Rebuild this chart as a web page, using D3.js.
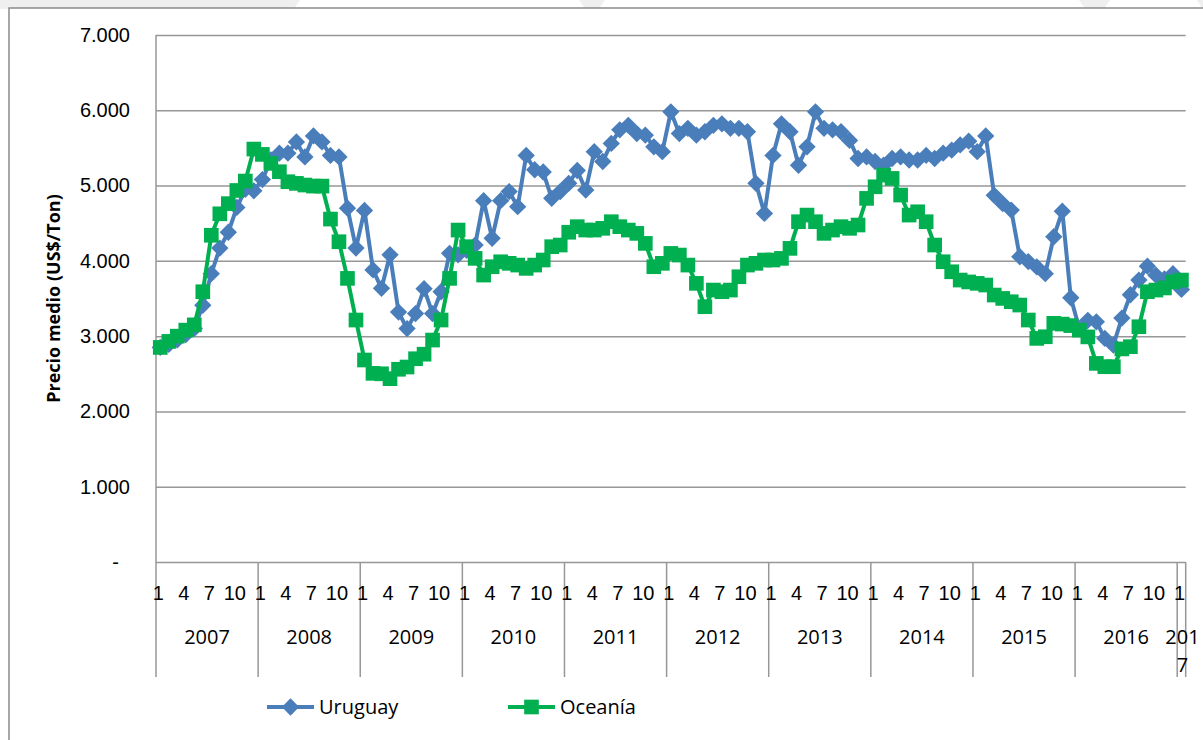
<!DOCTYPE html>
<html>
<head>
<meta charset="utf-8">
<script src="https://cdn.jsdelivr.net/npm/d3@7"></script>
<style>
  body { margin: 0; background: #fff; }
  svg { display: block; font-family: "Open Sans", sans-serif; }
</style>
</head>
<body>
<svg id="chart" width="1203" height="740"></svg>
<script>
// monthly prices, Jan 2007 .. Jan 2017 (121 months)
var years = ["2007", "2008", "2009", "2010", "2011", "2012", "2013", "2014", "2015", "2016", "2017"];
var monthTicks = [1, 4, 7, 10];
var yTicks = [0, 1000, 2000, 3000, 4000, 5000, 6000, 7000];

var uruguay = [
	2850, 2890, 2950, 3020, 3100, 3410, 3830, 4170, 4380, 4710, 4950, 4930,
	5080, 5340, 5430, 5430, 5580, 5380, 5660, 5580, 5400, 5380, 4700, 4170,
	4670, 3880, 3635, 4080, 3320, 3100, 3300, 3630, 3300, 3590, 4100, 4080,
	4140, 4210, 4800, 4300, 4800, 4920, 4720, 5400, 5210, 5180, 4830, 4920,
	5030, 5200, 4940, 5450, 5320, 5560, 5740, 5800, 5690, 5670, 5515, 5450,
	5980, 5690, 5760, 5670, 5715, 5800, 5820, 5760, 5760, 5715, 5030, 4630,
	5400, 5820, 5715, 5270, 5515, 5980, 5760, 5740, 5715, 5600, 5360, 5380,
	5320, 5270, 5360, 5380, 5340, 5340, 5400, 5360, 5430, 5470, 5540, 5590,
	5450, 5660, 4870, 4760, 4675, 4055, 3990, 3920, 3830, 4320, 4660, 3510,
	3100, 3210, 3190, 2970, 2880, 3240, 3550, 3745, 3930, 3810, 3760, 3830,
	3620
];
var oceania = [
	2850, 2930, 3000, 3080, 3150, 3590, 4340, 4625, 4760, 4935, 5060, 5485,
	5414, 5295, 5184, 5051, 5029, 5007, 4993, 4993, 4555, 4254, 3767, 3214,
	2683, 2506, 2500, 2435, 2560, 2590, 2700, 2760, 2948, 3214, 3767, 4409,
	4188, 4033, 3811, 3922, 3988, 3967, 3944, 3900, 3944, 4011, 4188, 4210,
	4380, 4454, 4409, 4409, 4432, 4520, 4454, 4409, 4365, 4232, 3922, 3967,
	4099, 4077, 3944, 3701, 3391, 3612, 3590, 3612, 3789, 3944, 3967, 4011,
	4011, 4033, 4166, 4520, 4608, 4520, 4365, 4409, 4454, 4432, 4476, 4830,
	4984, 5139, 5095, 4874, 4608, 4652, 4520, 4210, 3988, 3855, 3745, 3720,
	3701, 3679, 3546, 3501, 3457, 3413, 3214, 2970, 2992, 3170, 3160, 3140,
	3080, 2990, 2638, 2594, 2594, 2830, 2860, 3125, 3590, 3612, 3640, 3720,
	3745
];

var plotLeft = 156, plotRight = 1185.7, plotTop = 35, plotBottom = 562, axisBottom = 677;
var gridColor = "#979797";
var blue = "#4A7EBB", green = "#00B050";
var diamondSize = 150, squareSize = 215;

var svg = d3.select("#chart");

// faint banner at the very top
svg.append("rect").attr("x", 0).attr("y", 0).attr("width", 1203).attr("height", 9).style("fill", "#efefef");
[[300, 585], [605, 1085], [1110, 1203]].forEach(function(s){
	svg.append("polygon")
		.attr("points", (s[0]) + ",0 " + (s[1] - 6) + ",0 " + (s[1]) + ",9 " + (s[0] - 6) + ",9")
		.style("fill", "#fff");
});

// chart frame
svg.append("rect")
	.attr("x", 9).attr("y", 8)
	.attr("width", 1220).attr("height", 760)
	.style("fill", "#fff")
	.style("stroke", "#8a8a8a")
	.style("stroke-width", 1.5);

var idx = d3.range(uruguay.length);
var x = d3.scaleBand().domain(idx).range([plotLeft, plotRight]).padding(0);
var y = d3.scaleLinear().domain([0, 7000]).range([plotBottom, plotTop]);
var cx = function(i){ return x(i) + x.bandwidth() / 2; };

var loc = d3.formatLocale({decimal: ",", thousands: ".", grouping: [3], currency: ["$", ""]});
var fmt = loc.format(",.0f");

// gridlines + y labels
var yAxis = svg.append("g")
	.attr("transform", "translate(" + plotLeft + ",0)")
	.call(d3.axisLeft(y).tickValues(yTicks).tickSize(-(plotRight - plotLeft)).tickPadding(26)
		.tickFormat(function(d){ return d === 0 ? "-" : fmt(d); }));
yAxis.select(".domain").remove();
yAxis.selectAll(".tick line").style("stroke", gridColor).style("stroke-width", 1.5);
yAxis.selectAll(".tick text")
	.style("font-size", "20px").style("fill", "#000")
	.attr("dx", function(d){ return d === 0 ? -11 : 0; });

// left axis line and year separators
svg.append("line")
	.attr("x1", plotLeft).attr("x2", plotLeft).attr("y1", plotTop).attr("y2", axisBottom)
	.style("stroke", gridColor).style("stroke-width", 1.5);
d3.range(12, uruguay.length, 12).forEach(function(i){
	svg.append("line")
		.attr("x1", x(i)).attr("x2", x(i)).attr("y1", plotBottom).attr("y2", axisBottom)
		.style("stroke", gridColor).style("stroke-width", 1.5);
});
svg.append("line")
	.attr("x1", plotRight).attr("x2", plotRight).attr("y1", plotBottom).attr("y2", axisBottom)
	.style("stroke", gridColor).style("stroke-width", 1.5);

// month labels
var xAxis = svg.append("g")
	.attr("transform", "translate(0," + plotBottom + ")")
	.call(d3.axisBottom(x)
		.tickValues(idx.filter(function(i){ return monthTicks.indexOf(i % 12 + 1) >= 0; }))
		.tickFormat(function(i){ return i % 12 + 1; })
		.tickSize(0).tickPadding(24));
xAxis.select(".domain").remove();
xAxis.selectAll(".tick text").style("font-size", "20px").style("fill", "#000").attr("dx", -2);

// year labels, wrapped when the span is too narrow
years.forEach(function(yr, k){
	var first = k * 12;
	var last = Math.min(first + 11, uruguay.length - 1);
	var mid = (x(first) + x(last) + x.bandwidth()) / 2;
	var lines = (last - first < 2) ? [yr.slice(0, 3), yr.slice(3)] : [yr];
	var tx = mid + (lines.length > 1 ? 1 : 0);
	var t = svg.append("text")
		.attr("x", tx).attr("y", 644)
		.attr("text-anchor", "middle")
		.style("font-size", "20px");
	lines.forEach(function(s, n){
		t.append("tspan").attr("x", tx).attr("dy", n === 0 ? 0 : 28).text(s);
	});
});

// y title
svg.append("text")
	.attr("transform", "translate(60," + ((plotTop + plotBottom) / 2) + ") rotate(-90)")
	.attr("text-anchor", "middle")
	.style("font-size", "18px")
	.style("font-weight", "bold")
	.text("Precio medio (US$/Ton)");

var line = d3.line().x(function(d, i){ return cx(i); }).y(function(d){ return y(d); });

var drawSeries = function(data, color, shape){
	svg.append("path")
		.datum(data)
		.attr("d", line)
		.style("fill", "none")
		.style("stroke", color)
		.style("stroke-width", 4)
		.style("stroke-linejoin", "round");
	svg.append("g").selectAll("path")
		.data(data)
		.enter().append("path")
		.attr("d", d3.symbol().type(d3.symbolSquare).size(shape === "diamond" ? diamondSize : squareSize))
		.attr("transform", function(d, i){
			return "translate(" + cx(i) + "," + y(d) + ")" + (shape === "diamond" ? " rotate(45)" : "");
		})
		.style("fill", color);
};

drawSeries(uruguay, blue, "diamond");
drawSeries(oceania, green, "square");

// legend
var legend = [
	{name: "Uruguay", color: blue, shape: "diamond", x: 267},
	{name: "Oceanía", color: green, shape: "square", x: 508}
];
legend.forEach(function(l){
	var ly = 707;
	svg.append("line")
		.attr("x1", l.x).attr("x2", l.x + 47).attr("y1", ly).attr("y2", ly)
		.style("stroke", l.color).style("stroke-width", 4);
	svg.append("path")
		.attr("d", d3.symbol().type(d3.symbolSquare).size(l.shape === "diamond" ? diamondSize : squareSize))
		.attr("transform", "translate(" + (l.x + 23.5) + "," + ly + ")" + (l.shape === "diamond" ? " rotate(45)" : ""))
		.style("fill", l.color);
	svg.append("text")
		.attr("x", l.x + 52).attr("y", ly + 7)
		.style("font-size", "20px")
		.text(l.name);
});
</script>
</body>
</html>
